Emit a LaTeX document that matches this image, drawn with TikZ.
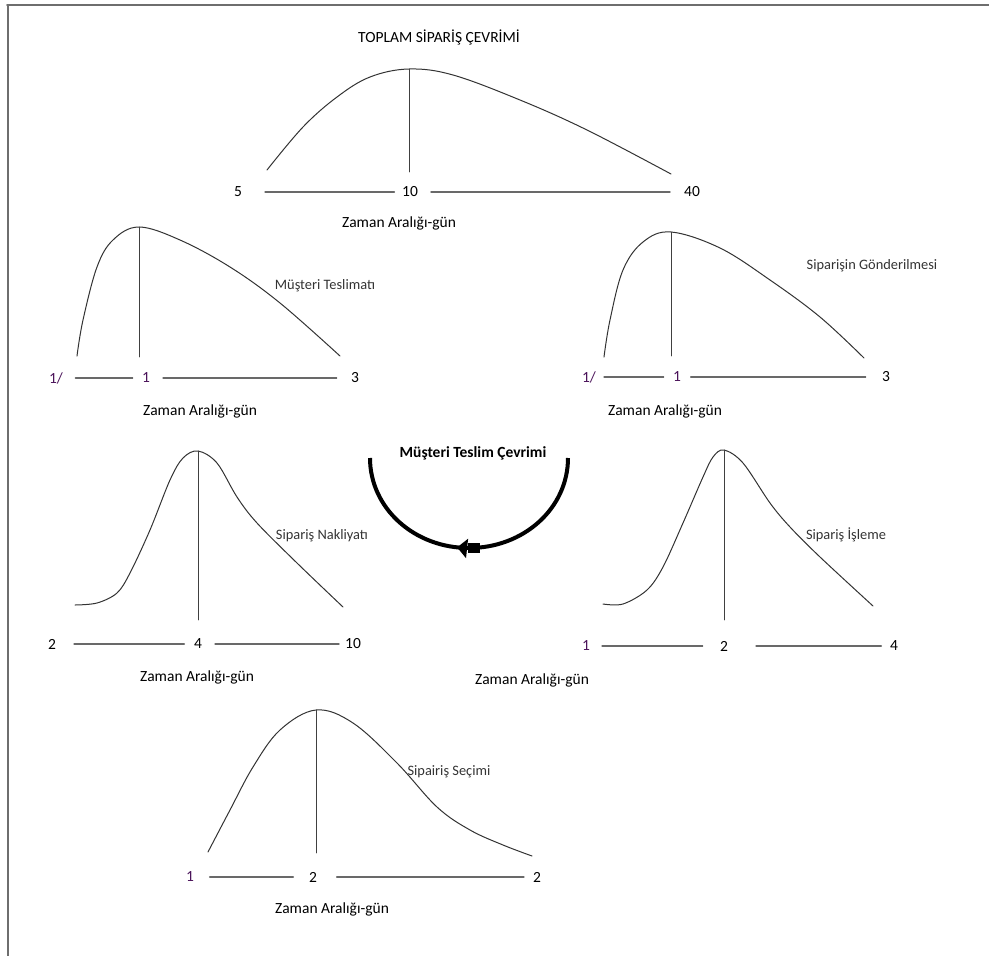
\documentclass[tikz,border=0pt]{standalone}
\usepackage{fontspec}
\setmainfont{Carlito}
\usetikzlibrary{arrows.meta,decorations.markings}
\definecolor{numpurple}{RGB}{75,20,90}
\definecolor{axisgray}{RGB}{105,105,105}
\definecolor{framegray}{RGB}{110,110,110}

\begin{document}
\begin{tikzpicture}[x=1pt,y=-1pt,line join=round,line cap=round,
		font=\fontsize{15.5}{18}\selectfont,
		curve/.style={draw=black!80,line width=1pt},
		stem/.style={draw=black!75,line width=0.9pt},
		axis/.style={draw=axisgray,line width=1.6pt},
		num/.style={inner sep=0pt},
		pnum/.style={inner sep=0pt,text=numpurple},
		tag/.style={text=black!80,font=\fontsize{14.4}{17}\selectfont},
		cycleline/.style={line width=4pt,line cap=butt,
			postaction={decorate,decoration={markings,
				mark=at position 0.483 with {\node[fill,inner sep=0pt,minimum width=12pt,minimum height=10pt]{};},
				mark=at position 0.54 with {\arrow{Triangle[length=10pt,width=19pt]}}}}}]
	\useasboundingbox (0,0) rectangle (989,956);
	\draw[framegray,line width=1.8pt] (7,5)--(989,5);
	\draw[framegray,line width=1.8pt] (8,5)--(8,956);
	%\draw[gray!30] (0,0) grid[step=50] (989,956);

	% toplam siparis cevrimi
	\node (ttitle) at (439,37) {TOPLAM SİPARİŞ ÇEVRİMİ};
	\draw[curve] plot[smooth,tension=0.6] coordinates {(267,170) (303,127) (337,97) (370,77) (409,69) (453,75) (520,100) (587,130) (671,174)};
	\coordinate (tpk) at (409,69); \coordinate (tft) at (409,172);
	\draw[stem] (tpk)--(tft);
	\node[num] (t5) at (238,192) {5};
	\node[num] (t10) at (410,192) {10};
	\node[num] (t40) at (692,192) {40};
	\draw[axis,shorten <=23pt,shorten >=7.6pt] (t5)--(t10);
	\draw[axis,shorten <=13pt,shorten >=14pt] (t10)--(t40);
	\node (tzaman) at (399,223) {Zaman Aralığı-gün};

	% musteri teslimati
	\draw[curve] plot[smooth,tension=0.6] coordinates {(77,356) (83,320) (97,267) (113,240) (139,227) (180,240) (230,267) (280,303) (340,356)};
	\coordinate (mpk) at (139,227); \coordinate (mft) at (139,357);
	\draw[stem] (mpk)--(mft);
	\node[pnum] (m1a) at (56,378) {1/};
	\node[pnum] (m1) at (146,378) {1};
	\node[num] (m3) at (355,378) {3};
	\draw[axis,shorten <=12.4pt,shorten >=9.3pt] (m1a)--(m1);
	\draw[axis,shorten <=13pt,shorten >=14.3pt] (m1)--(m3);
	\node[tag] (mtag) at (325,286) {Müşteri Teslimatı};
	\node (mzaman) at (200,411) {Zaman Aralığı-gün};

	% siparisin gonderilmesi
	\draw[curve] plot[smooth,tension=0.6] coordinates {(604,357) (610,320) (623,270) (643,242) (671,232) (720,248) (770,280) (820,317) (864,358)};
	\coordinate (gpk) at (671,232); \coordinate (gft) at (671,356);
	\draw[stem] (gpk)--(gft);
	\node[pnum] (g1a) at (589,377) {1/};
	\node[pnum] (g1) at (677,377) {1};
	\node[num] (g3) at (886,377) {3};
	\draw[axis,shorten <=8pt,shorten >=9.3pt] (g1a)--(g1);
	\draw[axis,shorten <=9.7pt,shorten >=16.3pt] (g1)--(g3);
	\node[tag] (gtag) at (872,266) {Siparişin Gönderilmesi};
	\node (gzaman) at (665,411) {Zaman Aralığı-gün};

	% musteri teslim cevrimi
	\node[font=\fontsize{15.5}{18}\selectfont\bfseries] (ctitle) at (473,453) {Müşteri Teslim Çevrimi};
	\coordinate (cright) at (568,458); \coordinate (cleft) at (370,458);
	\draw[cycleline] (cright) .. controls (568,508) and (524,548) .. (469,548) .. controls (414,548) and (370,508) .. (cleft);

	% siparis nakliyati
	\draw[curve] plot[smooth,tension=0.55] coordinates {(75,605) (97,603) (117,593) (130,573) (150,530) (170,480) (183,458) (198,451) (217,463) (237,497) (257,523) (297,563) (343,607)};
	\coordinate (npk) at (198,451); \coordinate (nft) at (198,620);
	\draw[stem] (npk)--(nft);
	\node[num] (n2) at (52,644) {2};
	\node[num] (n4) at (198,644) {4};
	\node[num] (n10) at (353,644) {10};
	\draw[axis,shorten <=18pt,shorten >=9.6pt] (n2)--(n4);
	\draw[axis,shorten <=13pt,shorten >=6pt] (n4)--(n10);
	\node[tag] (ntag) at (322,536) {Sipariş Nakliyatı};
	\node (nzaman) at (197,677) {Zaman Aralığı-gün};

	% siparis isleme
	\draw[curve] plot[smooth,tension=0.55] coordinates {(603,604) (623,604) (647,590) (663,567) (683,523) (703,477) (713,457) (724,450) (743,463) (770,503) (790,527) (820,557) (873,606)};
	\coordinate (ipk) at (724,450); \coordinate (ift) at (724,620);
	\draw[stem] (ipk)--(ift);
	\node[pnum] (i1) at (586,646) {1};
	\node[num] (i2) at (724,646) {2};
	\node[num] (i4) at (894,646) {4};
	\draw[axis,shorten <=12pt,shorten >=17.3pt] (i1)--(i2);
	\draw[axis,shorten <=28pt,shorten >=8.6pt] (i2)--(i4);
	\node[tag] (itag) at (846,535) {Sipariş İşleme};
	\node (izaman) at (532,680) {Zaman Aralığı-gün};

	% sipairis secimi
	\draw[curve] plot[smooth,tension=0.6] coordinates {(208,852) (230,810) (253,767) (280,730) (316,710) (353,723) (397,763) (437,807) (470,830) (503,845) (532,856)};
	\coordinate (spk) at (316,710); \coordinate (sft) at (316,853);
	\draw[stem] (spk)--(sft);
	\node[pnum] (s1) at (190,877) {1};
	\node[num] (s2) at (313,877) {2};
	\node[num] (s2b) at (537,877) {2};
	\draw[axis,shorten <=15.6pt,shorten >=15.6pt] (s1)--(s2);
	\draw[axis,shorten <=19.7pt,shorten >=9pt] (s2)--(s2b);
	\node[tag] (stag) at (449,772) {Sipairiş Seçimi};
	\node (szaman) at (332,909) {Zaman Aralığı-gün};
\end{tikzpicture}
\end{document}
